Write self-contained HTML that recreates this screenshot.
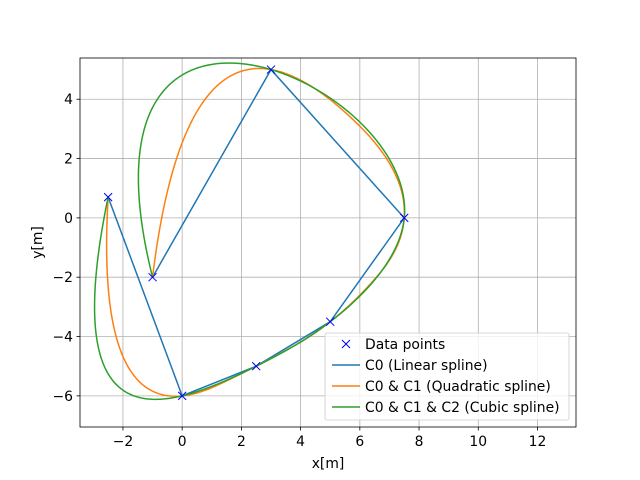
<!DOCTYPE html>
<html><head><meta charset="utf-8"><style>
html,body{margin:0;padding:0;background:#fff;}
svg{display:block;font-family:"DejaVu Sans","Liberation Sans",sans-serif;}
</style></head><body>
<svg id="chart" width="640" height="480"></svg>
<script>
const px = [-2.5, 0, 2.5, 5, 7.5, 3, -1];
const py = [0.7, -6, -5, -3.5, 0, 5, -2];
const xTicks = [-2, 0, 2, 4, 6, 8, 10, 12];
const yTicks = [-6, -4, -2, 0, 2, 4];
const xMin = -3.45, xMax = 13.3, yMin = -7.05, yMax = 5.39;
const L = 80, R = 576, T = 58, B = 427;
const FS = 13.9;
const sx = v => L + (v - xMin) / (xMax - xMin) * (R - L);
const sy = v => B - (v - yMin) / (yMax - yMin) * (B - T);
const NS = "http://www.w3.org/2000/svg";
const svg = document.getElementById('chart');
function mk(tag, attrs, parent) {
  const e = document.createElementNS(NS, tag);
  for (const k in attrs) e.setAttribute(k, attrs[k]);
  (parent || svg).appendChild(e);
  return e;
}
const n = px.length;
const t = [0];
for (let i = 1; i < n; i++) t.push(t[i-1] + Math.hypot(px[i]-px[i-1], py[i]-py[i-1]));
function basis(knots, k, i, x) {
  if (k === 0) {
    const last = knots[knots.length-1];
    if (x === last) return (knots[i] < x && knots[i+1] === x) ? 1 : 0;
    return (knots[i] <= x && x < knots[i+1]) ? 1 : 0;
  }
  let r = 0;
  const d1 = knots[i+k] - knots[i], d2 = knots[i+k+1] - knots[i+1];
  if (d1 > 0) r += (x - knots[i]) / d1 * basis(knots, k-1, i, x);
  if (d2 > 0) r += (knots[i+k+1] - x) / d2 * basis(knots, k-1, i+1, x);
  return r;
}
function solve(A, b) {
  const m = b.length; A = A.map(r => r.slice()); b = b.slice();
  for (let c = 0; c < m; c++) {
    let p = c; for (let r = c+1; r < m; r++) if (Math.abs(A[r][c]) > Math.abs(A[p][c])) p = r;
    [A[c], A[p]] = [A[p], A[c]]; [b[c], b[p]] = [b[p], b[c]];
    for (let r = c+1; r < m; r++) { const f = A[r][c]/A[c][c]; for (let j = c; j < m; j++) A[r][j] -= f*A[c][j]; b[r] -= f*b[c]; }
  }
  const x = new Array(m);
  for (let r = m-1; r >= 0; r--) { let s = b[r]; for (let j = r+1; j < m; j++) s -= A[r][j]*x[j]; x[r] = s/A[r][r]; }
  return x;
}
function interpSpline(v, k) {
  let knots = [];
  for (let i = 0; i <= k; i++) knots.push(t[0]);
  if (k % 2 === 0) { for (let i = 1; i < n-2; i++) knots.push((t[i]+t[i+1])/2); }
  else { const h = (k-1)/2; for (let i = h+1; i < n-h-1; i++) knots.push(t[i]); }
  for (let i = 0; i <= k; i++) knots.push(t[n-1]);
  const A = [];
  for (let r = 0; r < n; r++) { const row = []; for (let j = 0; j < n; j++) row.push(basis(knots, k, j, t[r])); A.push(row); }
  const c = solve(A, v);
  return tt => { let s = 0; for (let j = 0; j < n; j++) s += c[j]*basis(knots, k, j, tt); return s; };
}
const grid = mk('g', {});
xTicks.forEach(v => mk('line', {x1:sx(v),x2:sx(v),y1:T,y2:B,stroke:'#b0b0b0','stroke-width':0.8}, grid));
yTicks.forEach(v => mk('line', {x1:L,x2:R,y1:sy(v),y2:sy(v),stroke:'#b0b0b0','stroke-width':0.8}, grid));
function drawFn(fx, fy, color, name) {
  let d = '';
  const N = 400;
  for (let k = 0; k <= N; k++) {
    const tt = t[n-1]*k/N;
    d += (k ? 'L' : 'M') + sx(fx(tt)).toFixed(2) + ',' + sy(fy(tt)).toFixed(2);
  }
  const p = mk('path', {d:d, fill:'none', stroke:color, 'stroke-width':1.5});
  
  
}
let dl = '';
for (let i = 0; i < n; i++) dl += (i ? 'L' : 'M') + sx(px[i]) + ',' + sy(py[i]);
const lin = mk('path', {d:dl, fill:'none', stroke:'#1f77b4', 'stroke-width':1.5});


drawFn(interpSpline(px, 2), interpSpline(py, 2), '#ff7f0e', 'quadratic-spline-line');
drawFn(interpSpline(px, 3), interpSpline(py, 3), '#2ca02c', 'cubic-spline-line');
function cross(x, y, parent) {
  const g = mk('g', {}, parent);
  
  
  mk('path', {d:`M${x-4},${y-4}L${x+4},${y+4}M${x-4},${y+4}L${x+4},${y-4}`, stroke:'#0000ff','stroke-width':1}, g);
}
for (let i = 0; i < n; i++) cross(sx(px[i]), sy(py[i]));
mk('rect', {x:L,y:T,width:R-L,height:B-T,fill:'none',stroke:'#000','stroke-width':0.8,});
xTicks.forEach(v => {
  mk('line', {x1:sx(v),x2:sx(v),y1:B,y2:B+3.5,stroke:'#000','stroke-width':0.8});
  const tx = mk('text', {x:sx(v),y:B+19,'font-size':FS,'text-anchor':'middle',fill:'#000'});
  
  
  tx.textContent = v < 0 ? '\u2212' + (-v) : String(v);
});
yTicks.forEach(v => {
  mk('line', {x1:L-3.5,x2:L,y1:sy(v),y2:sy(v),stroke:'#000','stroke-width':0.8});
  const tx = mk('text', {x:L-7,y:sy(v)+5,'font-size':FS,'text-anchor':'end',fill:'#000'});
  
  
  tx.textContent = v < 0 ? '\u2212' + (-v) : String(v);
});
const xl = mk('text', {x:(L+R)/2,y:468,'font-size':FS,'text-anchor':'middle'});


xl.textContent = 'x[m]';
const yl = mk('text', {x:0,y:0,'font-size':FS,'text-anchor':'middle',transform:`translate(42,${(T+B)/2}) rotate(-90)`});


yl.textContent = 'y[m]';
const lg = mk('g', {});
mk('rect', {x:325,y:333,width:244,height:87,rx:2,fill:'#fff','fill-opacity':0.8,stroke:'#cccccc','stroke-width':0.8}, lg);
const entries = [['Data points',null],['C0 (Linear spline)','#1f77b4'],['C0 & C1 (Quadratic spline)','#ff7f0e'],['C0 & C1 & C2 (Cubic spline)','#2ca02c']];
entries.forEach((e, i) => {
  const y = 344 + i*21;
  const g = mk('g', {}, lg);
  
  
  if (e[1]) mk('line', {x1:332,x2:360,y1:y,y2:y,stroke:e[1],'stroke-width':1.5}, g);
  else cross(346, y, g);
  const tx = mk('text', {x:365,y:y+5,'font-size':FS}, g);
  tx.textContent = e[0];
});
</script>
</body></html>
